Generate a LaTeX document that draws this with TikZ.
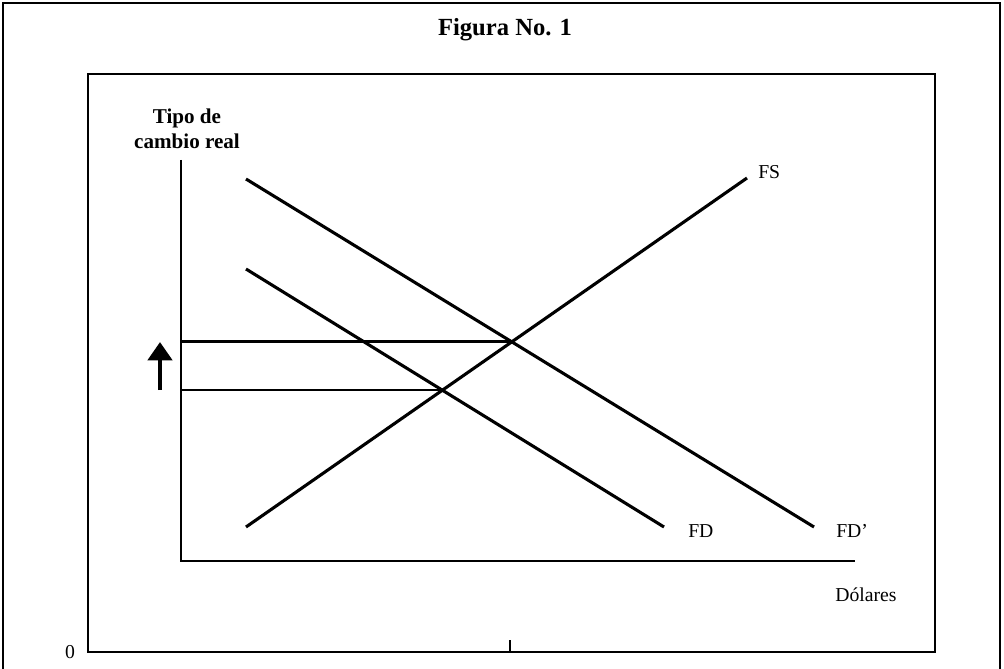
\documentclass[tikz,border=0pt]{standalone}
\usepackage{fontspec}
\setmainfont{Liberation Serif}
\usetikzlibrary{positioning,arrows.meta,calc}
\tikzset{
  frm/.style={line width=1.5pt},
  axs/.style={line width=1.5pt},
  crv/.style={line width=2.2pt},
  lvl/.style={line width=1.8pt},
  lbl/.style={inner sep=0pt, font=\fontsize{14}{16}\selectfont}}

\begin{document}
\begin{tikzpicture}[x=0.025cm, y=-0.025cm]
\useasboundingbox (0,0) rectangle (1004,669);
\draw[frm] (3,669) -- (3,3) -- (1000,3) -- (1000,669);
\node[font=\bfseries\fontsize{17.5}{20}\selectfont] (title) at (505,30) {Figura No. 1};
\draw[frm] (88,74) rectangle (935,652);
\node[lbl] (zero) at (70,652) {0};
\coordinate (tk) at (510,652);
\draw[line width=1pt] (tk) -- ++(0,-12);
% axes
\coordinate (o) at (181,561);
\coordinate (ytop) at (181,160);
\coordinate (xend) at (855,561);
\draw[axs] (ytop) -- (o) -- (xend);
\node[lbl, font=\bfseries\fontsize{15}{17}\selectfont, align=center] (ylab) at (187,129) {Tipo de\\[1pt]cambio real};
\node[lbl] (xlab) at (866,595) {Dólares};
% curves
\coordinate (fs1) at (246,527);  \coordinate (fs2) at (747,178);
\coordinate (fd1) at (246,269);  \coordinate (fd2) at (664,527);
\coordinate (fdp1) at (246,179); \coordinate (fdp2) at (814,527);
\draw[crv] (fs1) -- (fs2);
\draw[crv] (fd1) -- (fd2);
\draw[crv] (fdp1) -- (fdp2);
\node[lbl, anchor=west] (lfs) at (758,172) {FS};
\node[lbl, anchor=west] (lfd) at (688,531) {FD};
\node[lbl, anchor=west] (lfdp) at (836,531) {FD'};
% levels
\coordinate (eq1) at (intersection of fs1--fs2 and fdp1--fdp2);
\coordinate (eq0) at (intersection of fs1--fs2 and fd1--fd2);
\draw[lvl, line width=2.2pt] (ytop |- eq1) -- (eq1);
\draw[lvl] (ytop |- eq0) -- (eq0);
\coordinate (up0) at (160,390);
\coordinate (up1) at (160,342);
\draw[line width=3.5pt, -{Triangle[width=17pt, length=13pt]}] (up0) -- (up1);
\end{tikzpicture}
\end{document}
